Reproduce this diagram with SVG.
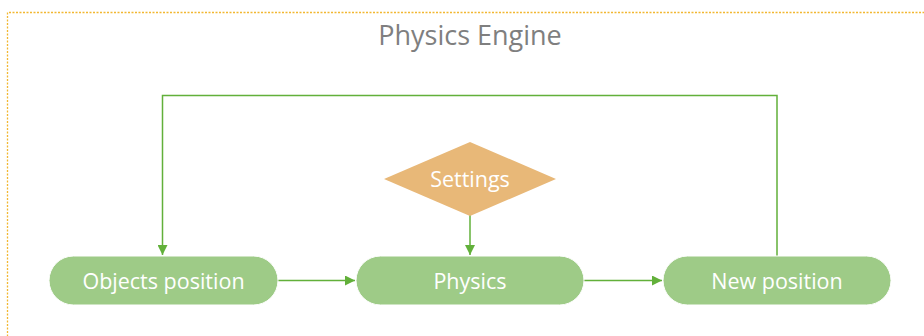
<svg xmlns="http://www.w3.org/2000/svg" width="924" height="336" viewBox="0 0 924 336">
  <style>
    .frame { fill: none; stroke: #f2b731; stroke-width: 1.3; stroke-dasharray: 2 1.5; }
    .title { font-family: "Open Sans", "Liberation Sans", sans-serif; font-size: 27px; fill: #7f7f7f; text-anchor: middle; }
    .pill { fill: #9ecb87; stroke: #ffffff; stroke-width: 1; }
    .diamond { fill: #e8b878; }
    .label { font-family: "Open Sans", "Liberation Sans", sans-serif; font-size: 21.5px; fill: #ffffff; text-anchor: middle; dominant-baseline: central; }
    .conn { fill: none; stroke: #62b03a; stroke-width: 1.5; }
  </style>
  <defs>
    <marker id="arrow" viewBox="0 0 10 10" refX="10" refY="5" markerWidth="10" markerHeight="10" markerUnits="userSpaceOnUse" orient="auto">
      <path d="M0,0 L10,5 L0,10 Z" fill="#62b03a"/>
    </marker>
  </defs>
  <rect width="924" height="336" fill="#ffffff"/>
  <!-- dotted boundary of the engine -->
  <path class="frame" d="M7.5,340 V12.5 H930"/>
  <text class="title" x="470" y="45">Physics Engine</text>

  <g id="connectors">
    <path class="conn" d="M777,256 V95.5 H162.5 V255" marker-end="url(#arrow)"/>
    <path class="conn" d="M278,280.5 H355" marker-end="url(#arrow)"/>
    <path class="conn" d="M584,280.5 H662" marker-end="url(#arrow)"/>
    <path class="conn" d="M470,215 V255" marker-end="url(#arrow)"/>
  </g>

  <g id="objects-position">
    <rect class="pill" x="49" y="256" width="229" height="49" rx="24.5"/>
    <text class="label" x="163.5" y="280">Objects position</text>
  </g>
  <g id="physics">
    <rect class="pill" x="356" y="256" width="228" height="49" rx="24.5"/>
    <text class="label" x="470" y="280">Physics</text>
  </g>
  <g id="new-position">
    <rect class="pill" x="663" y="256" width="228" height="49" rx="24.5"/>
    <text class="label" x="777" y="280">New position</text>
  </g>
  <g id="settings">
    <polygon class="diamond" points="384,179 470,142 556,179 470,216"/>
    <text class="label" x="470" y="178">Settings</text>
  </g>
</svg>
